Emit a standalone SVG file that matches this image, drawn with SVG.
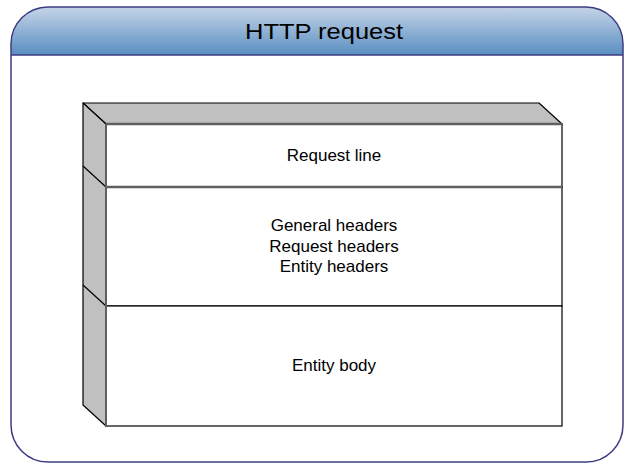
<svg xmlns="http://www.w3.org/2000/svg" width="624" height="464" viewBox="0 0 624 464">
<defs>
<linearGradient id="hdr" gradientUnits="userSpaceOnUse" x1="0" y1="7" x2="0" y2="55">
<stop offset="0" stop-color="#c5d4e7"/>
<stop offset="1" stop-color="#5a8ec2"/>
</linearGradient>
<clipPath id="hclip"><rect x="0" y="0" width="624" height="55"/></clipPath>
<style>
.t{font-family:"Liberation Sans",Arial,sans-serif;fill:#000;text-anchor:middle}
.b{font-size:17px}
.side{fill:#c0c0c0;stroke:#000;stroke-width:1.2;stroke-linejoin:round}
.front{fill:#fff;stroke:#000;stroke-width:1.2}
.gl{stroke:#606060;stroke-width:2.5}
</style>
</defs>
<g id="frame">
<rect x="11" y="7" width="612" height="455" rx="37" ry="37" fill="#fff"/>
<rect x="11" y="7" width="612" height="455" rx="37" ry="37" fill="url(#hdr)" clip-path="url(#hclip)"/>
<line x1="11" y1="55" x2="623" y2="55" stroke="#3c3c82" stroke-width="1.5"/>
<rect x="11" y="7" width="612" height="455" rx="37" ry="37" fill="none" stroke="#3c3c82" stroke-width="1.5"/>
<text class="t" x="324" y="39" font-size="22.5" textLength="158" lengthAdjust="spacingAndGlyphs">HTTP request</text>
</g>
<g id="box">
<polygon class="side" points="83,103 539,103 562,124 106,124"/>
<polygon class="side" points="83,103 106,124 106,426 83,405"/>
<line x1="83" y1="166" x2="106" y2="187" stroke="#000" stroke-width="1.2"/>
<line x1="83" y1="285" x2="106" y2="306" stroke="#000" stroke-width="1.2"/>
</g>
<g id="n1">
<rect class="front" x="106" y="124" width="456" height="63"/>
<text class="t b" x="334" y="161">Request line</text>
</g>
<g id="n2">
<rect class="front" x="106" y="187" width="456" height="119"/>
<text class="t b" x="334" y="231">General headers</text>
<text class="t b" x="334" y="251.5">Request headers</text>
<text class="t b" x="334" y="272">Entity headers</text>
</g>
<g id="n3">
<rect class="front" x="106" y="306" width="456" height="120"/>
<text class="t b" x="334" y="371">Entity body</text>
</g>
<g id="connectors">
<line class="gl" x1="106" y1="124" x2="562" y2="124"/>
<line class="gl" x1="106" y1="187" x2="562" y2="187"/>
<line x1="106" y1="124" x2="106" y2="426" stroke="#606060" stroke-width="2"/>
</g>
</svg>
